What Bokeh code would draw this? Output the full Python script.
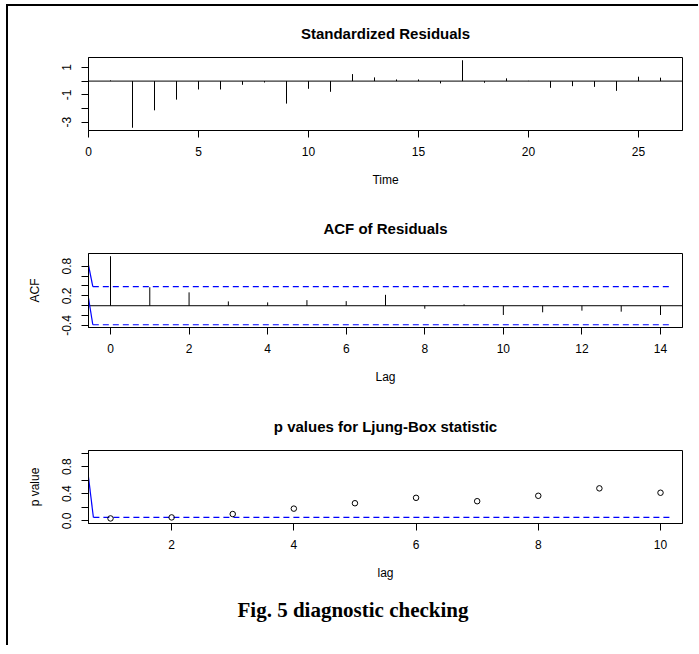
from bokeh.plotting import figure
from bokeh.models import FixedTicker, CustomJSTickFormatter, Range1d, Div
from bokeh.layouts import column
from bokeh.embed import file_html
from bokeh.resources import INLINE

# ---------------- data ----------------
time_idx = list(range(1, 27))
std_resid = [0.05, -3.4, -2.13, -1.35, -0.61, -0.61, -0.27, -0.1, -1.64, -0.56,
             -0.78, 0.51, 0.27, 0.12, 0.12, -0.17, 1.52, -0.12, 0.2, 0.02,
             -0.49, -0.37, -0.42, -0.71, 0.32, 0.25]

acf_lags = list(range(15))
acf_vals = [1.0, 0.373, 0.27, 0.087, 0.067, 0.113, 0.093, 0.22, -0.06, 0.027,
            -0.187, -0.133, -0.1, -0.12, -0.187]
acf_ci = 0.384

lb_lags = list(range(1, 11))
lb_pvals = [0.035, 0.05, 0.1, 0.18, 0.26, 0.34, 0.29, 0.37, 0.48, 0.415]
p_level = 0.05

# blue lead-in segments / dashed extents as they appear in the picture
acf_lead_x = [-0.56, -0.45]
acf_lead_up_y = [0.82, acf_ci]
acf_lead_lo_y = [0.154, -acf_ci]
acf_dash_x = [-0.45, 14.3]
p_lead_x = [0.63, 0.72]
p_lead_y = [0.72, p_level]
p_dash_x = [0.72, 10.2]

resid_xticks = [0, 5, 10, 15, 20, 25]
resid_yticks = [-3, -2, -1, 0, 1]
resid_ylabs = ["-3", "", "-1", "", "1"]
acf_xticks = [0, 2, 4, 6, 8, 10, 12, 14]
acf_yticks = [-0.4, -0.2, 0.0, 0.2, 0.4, 0.6, 0.8]
acf_ylabs = ["-0.4", "", "", "0.2", "", "", "0.8"]
p_xticks = [2, 4, 6, 8, 10]
p_yticks = [0.0, 0.2, 0.4, 0.6, 0.8, 1.0]
p_ylabs = ["0.0", "", "0.4", "", "0.8", ""]

FONT = "Liberation Sans"


def fmt(vals, labs):
    return CustomJSTickFormatter(args=dict(vals=vals, labs=labs), code="""
        for (let i = 0; i < vals.length; i++) {
            if (Math.abs(vals[i] - tick) < 1e-9) { return labs[i]; }
        }
        return "";
    """)


def make_fig(height, top_b, bottom_b, xr, yr, title, standoff,
             xticks, yticks, ylabs, xlabel, ylabel):
    p = figure(width=680, height=height, x_range=Range1d(*xr), y_range=Range1d(*yr),
               output_backend="svg", toolbar_location=None,
               min_border_left=80, min_border_right=6,
               min_border_top=top_b, min_border_bottom=bottom_b)
    p.title.text = title
    p.title.align = "center"
    p.title.text_font = FONT
    p.title.text_font_size = "15px"
    p.title.text_font_style = "bold"
    p.title.text_color = "black"
    p.title.standoff = standoff
    p.xgrid.visible = False
    p.ygrid.visible = False
    p.outline_line_color = "black"
    p.outline_line_width = 1
    p.outline_line_alpha = 1
    p.background_fill_color = "white"
    p.border_fill_color = "white"

    for ax in (p.xaxis[0], p.yaxis[0]):
        ax.major_tick_out = 7
        ax.major_tick_in = 0
        ax.minor_tick_out = 0
        ax.minor_tick_in = 0
        ax.axis_line_color = "black"
        ax.major_tick_line_color = "black"
        ax.major_label_text_font = FONT
        ax.major_label_text_font_size = "12px"
        ax.major_label_text_color = "black"
        ax.axis_label_text_font = FONT
        ax.axis_label_text_font_size = "12px"
        ax.axis_label_text_font_style = "normal"
        ax.axis_label_text_color = "black"

    p.xaxis[0].ticker = FixedTicker(ticks=xticks)
    p.xaxis[0].major_label_standoff = 9
    p.xaxis[0].axis_label = xlabel
    p.xaxis[0].axis_label_standoff = 14

    p.yaxis[0].ticker = FixedTicker(ticks=yticks)
    p.yaxis[0].formatter = fmt(yticks, ylabs)
    p.yaxis[0].major_label_orientation = "vertical"
    p.yaxis[0].major_label_standoff = 10
    if ylabel:
        p.yaxis[0].axis_label = ylabel
        p.yaxis[0].axis_label_standoff = 18
    return p


# ---- panel 1: standardized residuals ----
p1 = make_fig(194, 51, 70, (0, 27), (-3.6, 1.72), "Standardized Residuals", 31,
              resid_xticks, resid_yticks, resid_ylabs, "Time", None)
p1.segment(x0=time_idx, y0=[0] * len(time_idx), x1=time_idx, y1=std_resid,
           line_color="black", line_width=1)
p1.segment(x0=[0], y0=[0], x1=[27], y1=[0], line_color="black", line_width=1)

# ---- panel 2: ACF of residuals ----
p2 = make_fig(195, 53, 68, (-0.56, 14.56), (-0.44, 1.055), "ACF of Residuals", 34,
              acf_xticks, acf_yticks, acf_ylabs, "Lag", "ACF")
p2.segment(x0=acf_lags, y0=[0] * len(acf_lags), x1=acf_lags, y1=acf_vals,
           line_color="black", line_width=1)
p2.segment(x0=[-0.56], y0=[0], x1=[14.56], y1=[0], line_color="black", line_width=1)
p2.line(acf_dash_x, [acf_ci, acf_ci], line_color="#0000ff", line_width=1.2, line_dash="6 4")
p2.line(acf_dash_x, [-acf_ci, -acf_ci], line_color="#0000ff", line_width=1.2, line_dash="6 4")
p2.line(acf_lead_x, acf_lead_up_y, line_color="#0000ff", line_width=1.2)
p2.line(acf_lead_x, acf_lead_lo_y, line_color="#0000ff", line_width=1.2)

# ---- panel 3: Ljung-Box p values ----
p3 = make_fig(190, 55, 62, (0.64, 10.36), (-0.04, 1.04), "p values for Ljung-Box statistic", 31,
              p_xticks, p_yticks, p_ylabs, "lag", "p value")
p3.line(p_dash_x, [p_level, p_level], line_color="#0000ff", line_width=1.2, line_dash="6 4")
p3.line(p_lead_x, p_lead_y, line_color="#0000ff", line_width=1.2)
p3.scatter(lb_lags, lb_pvals, size=5.5, marker="circle", fill_color=None,
           line_color="black", line_width=1)

caption = Div(text='<div style="text-align:center;font-family:\'Liberation Serif\';'
                   'font-weight:bold;font-size:21px;line-height:24px;padding-top:8px;'
                   'width:680px;">Fig. 5 diagnostic checking</div>',
              width=680, height=50)

layout = column(p1, p2, p3, caption,
                styles={"margin-left": "6px", "margin-top": "4px",
                        "border-left": "2px solid black", "border-top": "2px solid black"})

open("out.html", "w").write(file_html(layout, INLINE))
